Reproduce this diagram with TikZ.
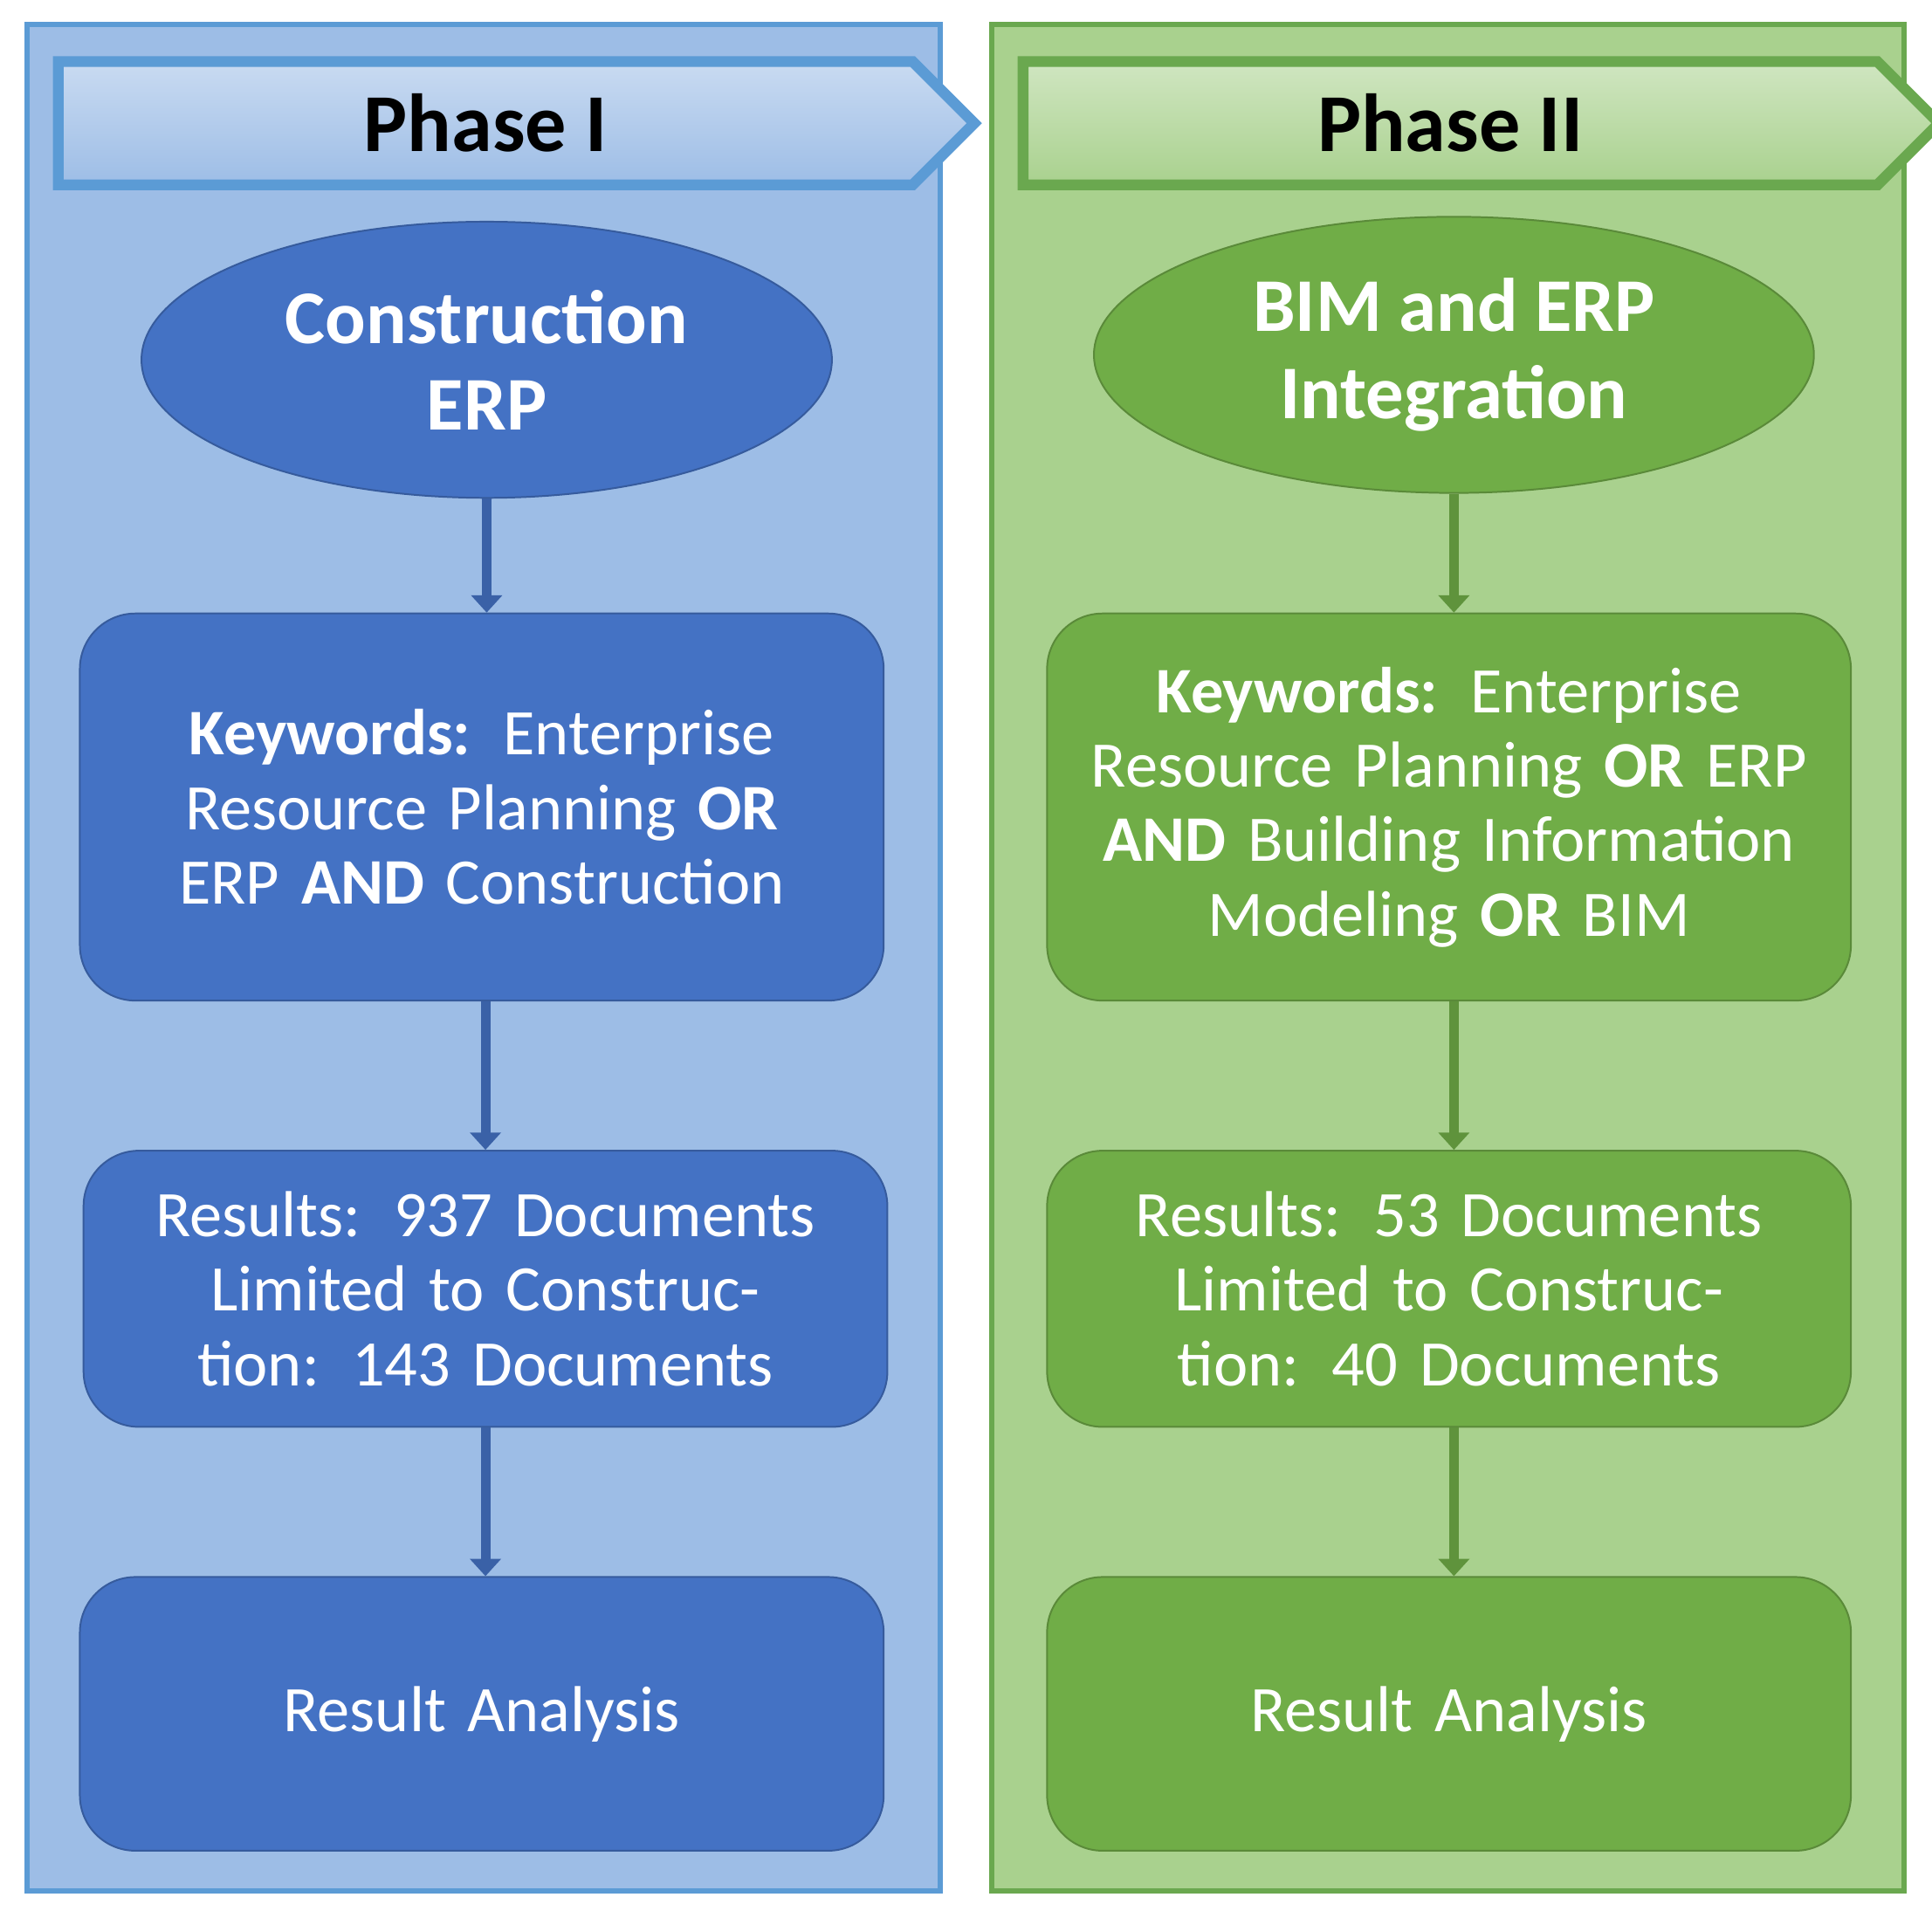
\documentclass[tikz,border=0pt]{standalone}
\usepackage{fontspec}
\setmainfont{Carlito}
\usetikzlibrary{shapes.geometric,shapes.symbols,arrows.meta,positioning}
\definecolor{bluebox}{HTML}{4472C4}
\definecolor{blueline}{HTML}{5B9BD5}
\definecolor{bluebg}{HTML}{9DBDE6}
\definecolor{greenbox}{HTML}{70AD47}
\definecolor{greenline}{HTML}{6AA84F}
\definecolor{greenbg}{HTML}{A9D18E}
\begin{document}
\begin{tikzpicture}[x=0.01cm,y=-0.01cm,
        panel/.style = {draw=#1line, line width=1.2pt, fill=#1bg},
        banner/.style = {signal, signal to=east, signal pointer angle=90,
            draw=#1line, line width=2.5pt, inner sep=0pt,
            top color=#1bg!55!white, bottom color=#1bg,
            minimum width=7.43cm, minimum height=1cm,
            font=\fontsize{19}{22}\selectfont\bfseries},
        topic/.style = {ellipse, draw=#1box!80!black, fill=#1box, text=white,
            minimum width=5.6cm, minimum height=2.24cm, inner sep=0pt,
            align=center, font=\fontsize{17.5}{20}\selectfont\bfseries},
        box/.style = {draw=#1box!80!black, fill=#1box, text=white,
            rounded corners=0.45cm, minimum width=6.52cm, align=center,
            text width=5.9cm, font=\fontsize{15}{17.2}\selectfont},
        flow/.style = {draw=#1box!85!black, line width=2.2pt,
            -{Triangle[length=4pt,width=7pt]}}
    ]
    \useasboundingbox (0,0) rectangle (1568,1551);

    % Phase I
    \draw[panel=blue] (22,20) rectangle (763,1535);
    \node[banner=blue] (p1) at (394,100) {Phase I};
    \node[topic=blue] (e1) at (395,292) {Construction\\ERP};
    \node[box=blue, minimum height=3.14cm] (k1) at (391,655)
        {\textbf{Keywords:} Enterprise Resource Planning \textbf{OR} ERP \textbf{AND} Construction};
    \node[box=blue, minimum height=2.24cm] (r1) at (394,1046)
        {Results: 937 Documents Limited to Construction: 143 Documents};
    \node[box=blue, minimum height=2.22cm] (a1) at (391,1391) {Result Analysis};
    \draw[flow=blue] (e1.south) -- (k1.north -| e1.south);
    \draw[flow=blue] (k1.south -| r1.north) -- (r1.north);
    \draw[flow=blue] (r1) -- (a1.north -| r1);

    % Phase II
    \draw[panel=green] (805,20) rectangle (1545,1535);
    \node[banner=green] (p2) at (1177,100) {Phase II};
    \node[topic=green, minimum width=5.84cm] (e2) at (1180,288) {BIM and ERP\\Integration};
    \node[box=green, minimum height=3.14cm] (k2) at (1176,655)
        {\textbf{Keywords:} Enterprise Resource Planning \textbf{OR} ERP \textbf{AND} Building Information Modeling \textbf{OR} BIM};
    \node[box=green, minimum height=2.24cm] (r2) at (1176,1046)
        {Results: 53 Documents Limited to Construction: 40 Documents};
    \node[box=green, minimum height=2.22cm] (a2) at (1176,1391) {Result Analysis};
    \draw[flow=green] (e2.south) -- (k2.north -| e2.south);
    \draw[flow=green] (k2.south -| e2.south) -- (r2.north -| e2.south);
    \draw[flow=green] (r2.south -| e2.south) -- (a2.north -| e2.south);
\end{tikzpicture}
\end{document}
